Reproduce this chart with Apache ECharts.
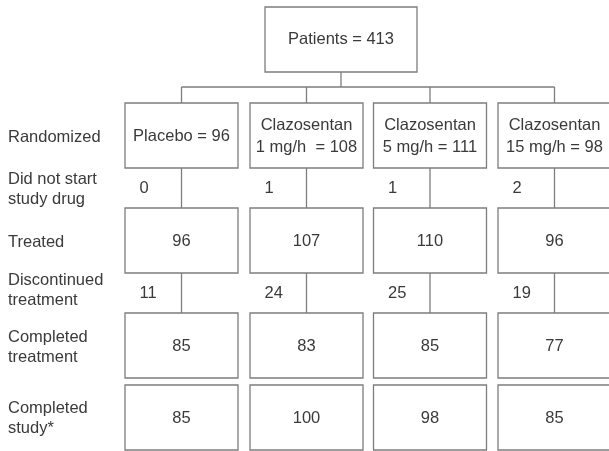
<!DOCTYPE html>
<html>
<head>
<meta charset="utf-8">
<script src="https://cdn.jsdelivr.net/npm/echarts@6/dist/echarts.min.js"></script>
<style>
html,body{margin:0;padding:0;background:#fff;}
#c{width:609px;height:451px;}
</style>
</head>
<body>
<div id="c"></div>
<script>
// ---- data ----
var totalPatients = 413;
var groupNames = ['Placebo', 'Clazosentan\n1 mg/h ', 'Clazosentan\n5 mg/h', 'Clazosentan\n15 mg/h'];
var randomized = [96, 108, 111, 98];
var didNotStart = [0, 1, 1, 2];
var treated = [96, 107, 110, 96];
var discontinued = [11, 24, 25, 19];
var completedTreatment = [85, 83, 85, 77];
var completedStudy = [85, 100, 98, 85];
var stageLabels = ['Randomized', 'Did not start\nstudy drug', 'Treated', 'Discontinued\ntreatment', 'Completed\ntreatment', 'Completed\nstudy*'];

// ---- layout (pixel space of the canvas) ----
var colCenters = [181.5, 306.5, 430, 554.5];
var boxW = 113;
var rowSpans = [[103, 168], [208, 273], [313, 378], [385, 450]];
var topBox = {x0: 265, x1: 417, y0: 7, y1: 72};
var busY = 87;
var stageLabelY = [137, 189, 242, 290, 347, 418];
var gapNumY = [188, 293];
var gapNumDx = -42;
var FONT = '16.5px "Liberation Sans", Arial, sans-serif';
var TXT = '#3a3a3a';
var LINE = '#7d7d7d';

var topText = 'Patients = ' + totalPatients;
var boxData = [];
for (var i = 0; i < 4; i++) {
  boxData.push([i, 0, groupNames[i] + ' = ' + randomized[i]]);
  boxData.push([i, 1, String(treated[i])]);
  boxData.push([i, 2, String(completedTreatment[i])]);
  boxData.push([i, 3, String(completedStudy[i])]);
}
var gapData = [];
for (var j = 0; j < 4; j++) {
  gapData.push([j, 0, String(didNotStart[j])]);
  gapData.push([j, 1, String(discontinued[j])]);
}
var labelData = stageLabels.map(function (s, k) { return [k, s]; });

function P(api, x, y) { return api.coord([x, y]); }

var chart = echarts.init(document.getElementById('c'), null, {renderer: 'canvas'});
chart.setOption({
  animation: false,
  backgroundColor: '#fff',
  grid: {left: 0, right: 0, top: 0, bottom: 0},
  xAxis: {type: 'value', min: 0, max: 609, show: false},
  yAxis: {type: 'value', min: 0, max: 451, inverse: true, show: false},
  series: [
    { // connectors
      type: 'custom', silent: true,
      data: [[0]],
      renderItem: function (params, api) {
        var ch = [];
        function seg(x1, y1, x2, y2) {
          var a = P(api, x1, y1), b = P(api, x2, y2);
          ch.push({type: 'line', shape: {x1: a[0], y1: a[1], x2: b[0], y2: b[1]},
            style: {stroke: LINE, lineWidth: 1.3}});
        }
        var cx = (topBox.x0 + topBox.x1) / 2;
        seg(cx, topBox.y1, cx, busY);
        seg(colCenters[0], busY, colCenters[3], busY);
        for (var c = 0; c < 4; c++) {
          seg(colCenters[c], busY, colCenters[c], rowSpans[0][0]);
          seg(colCenters[c], rowSpans[0][1], colCenters[c], rowSpans[1][0]);
          seg(colCenters[c], rowSpans[1][1], colCenters[c], rowSpans[2][0]);
        }
        return {type: 'group', children: ch};
      }
    },
    { // top box
      type: 'custom', silent: true,
      data: [[0]],
      renderItem: function (params, api) {
        var a = P(api, topBox.x0, topBox.y0), b = P(api, topBox.x1, topBox.y1);
        return {type: 'group', children: [
          {type: 'rect', shape: {x: a[0], y: a[1], width: b[0] - a[0], height: b[1] - a[1]},
            style: {fill: '#fff', stroke: LINE, lineWidth: 1.3}},
          {type: 'text', style: {text: topText, x: (a[0] + b[0]) / 2, y: (a[1] + b[1]) / 2,
            align: 'center', verticalAlign: 'middle', font: FONT, fill: TXT}}
        ]};
      }
    },
    { // group boxes
      type: 'custom', silent: true,
      data: boxData,
      renderItem: function (params, api) {
        var c = api.value(0), r = api.value(1);
        var t = boxData[params.dataIndex][2];
        var a = P(api, colCenters[c] - boxW / 2, rowSpans[r][0]);
        var b = P(api, colCenters[c] + boxW / 2, rowSpans[r][1]);
        return {type: 'group', children: [
          {type: 'rect', shape: {x: a[0], y: a[1], width: b[0] - a[0], height: b[1] - a[1]},
            style: {fill: '#fff', stroke: LINE, lineWidth: 1.3}},
          {type: 'text', style: {text: t, x: (a[0] + b[0]) / 2, y: (a[1] + b[1]) / 2 + 1,
            align: 'center', verticalAlign: 'middle', font: FONT, fill: TXT, lineHeight: 22}}
        ]};
      }
    },
    { // numbers between boxes
      type: 'custom', silent: true,
      data: gapData,
      renderItem: function (params, api) {
        var c = api.value(0), r = api.value(1);
        var t = gapData[params.dataIndex][2];
        var a = P(api, colCenters[c] + gapNumDx, gapNumY[r]);
        return {type: 'text', style: {text: t, x: a[0], y: a[1], align: 'left',
          verticalAlign: 'middle', font: FONT, fill: TXT}};
      }
    },
    { // stage labels
      type: 'custom', silent: true,
      data: labelData,
      renderItem: function (params, api) {
        var k = api.value(0);
        var a = P(api, 8, stageLabelY[k]);
        return {type: 'text', style: {text: labelData[k][1], x: a[0], y: a[1], align: 'left',
          verticalAlign: 'middle', font: FONT, fill: TXT, lineHeight: 20}};
      }
    }
  ]
});
</script>
</body>
</html>
